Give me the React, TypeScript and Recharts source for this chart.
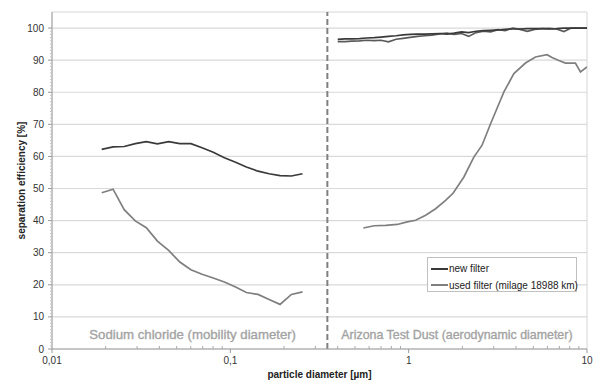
import React from 'react';
import { ComposedChart, Line, XAxis, YAxis, ReferenceLine, ReferenceArea, ReferenceDot, Label } from 'recharts';

// Sodium chloride range (mobility diameter)
const naclX = [0.019, 0.022, 0.0254, 0.0293, 0.0338, 0.039, 0.0451, 0.0521, 0.0601, 0.0694, 0.0802, 0.0926, 0.107, 0.123, 0.143, 0.165, 0.19, 0.22, 0.254];
const naclNew = [62.2, 63.0, 63.1, 64.0, 64.6, 63.9, 64.6, 64.0, 64.0, 62.7, 61.3, 59.6, 58.2, 56.7, 55.4, 54.6, 54.0, 53.9, 54.6];
const naclUsed = [48.7, 49.8, 43.4, 39.9, 37.8, 33.6, 30.7, 27.1, 24.7, 23.3, 22.1, 20.9, 19.3, 17.6, 17.0, 15.4, 13.9, 17.0, 17.8];

// Arizona Test Dust range (aerodynamic diameter)
const atdTopX = [0.4, 0.44, 0.48, 0.53, 0.58, 0.64, 0.7, 0.77, 0.85, 0.93, 1.02, 1.12, 1.23, 1.35, 1.49, 1.64, 1.8, 1.98, 2.17, 2.39, 2.62, 2.88, 3.17, 3.48, 3.83, 4.21, 4.63, 5.08, 5.59, 6.14, 6.75, 7.42, 8.15, 8.96, 10];
const atdNew = [96.5, 96.6, 96.6, 96.7, 96.9, 97.0, 97.2, 97.4, 97.6, 97.9, 98.0, 98.1, 98.1, 98.2, 98.3, 98.1, 98.4, 98.8, 98.6, 99.0, 99.2, 99.3, 99.4, 99.6, 99.7, 99.7, 99.8, 99.8, 99.8, 99.7, 99.8, 100, 100, 100, 100];
const atdUsedTop = [95.8, 95.8, 95.9, 96.0, 96.2, 96.1, 96.2, 95.7, 96.5, 96.8, 97.1, 97.4, 97.6, 97.8, 98.2, 98.4, 98.0, 98.3, 97.4, 98.6, 99.0, 98.8, 99.5, 99.2, 100, 99.6, 99.0, 99.6, 99.8, 99.9, 99.7, 98.9, 100, 100, 100];
const atdUsedX = [0.557, 0.64, 0.743, 0.863, 0.982, 1.094, 1.245, 1.416, 1.611, 1.778, 2.04, 2.32, 2.58, 2.88, 3.27, 3.42, 3.89, 4.52, 5.14, 5.97, 6.37, 6.95, 7.57, 8.61, 9.19, 10];
const atdUsed = [37.7, 38.4, 38.5, 38.8, 39.6, 40.1, 41.7, 43.7, 46.3, 48.6, 53.6, 59.8, 63.5, 70.2, 77.5, 80.1, 85.8, 89.1, 91.0, 91.7, 90.8, 89.9, 89.1, 89.1, 86.3, 87.9];

const xMajor = [0.01, 0.1, 1, 10];
const xMajorLabels = ['0,01', '0,1', '1', '10'];
const yMajor = [0, 10, 20, 30, 40, 50, 60, 70, 80, 90, 100];
const separatorX = 0.35;

const pair = (xs: number[], ys: number[]) => xs.map((x, i) => ({ x, y: ys[i] }));

const xTicks: number[] = [];
[0.01, 0.1, 1].forEach(d => {
  for (let m = 1; m < 10; m++) xTicks.push(+(d * m).toPrecision(3));
});
xTicks.push(10);
const yTicks: number[] = [];
for (let v = 0; v <= 100; v++) yTicks.push(v);

const NEW_COL = '#3a3a3a';
const USED_COL = '#7f7f7f';
const NOTE_COL = '#a3a3a3';
const FONT = '"Liberation Sans", Arial, sans-serif';

const XTick = ({ x, y, payload }: any) => {
  const idx = xMajor.findIndex(v => Math.abs(v - payload.value) < 1e-9);
  if (idx >= 0) {
    return (
      <g>
        <line x1={x} x2={x} y1={y} y2={y + 4} stroke="#999" />
        <text x={x} y={y + 11} dy="0.35em" textAnchor="middle" fontSize={10} fill="#333" fontFamily={FONT}>
          {xMajorLabels[idx]}
        </text>
      </g>
    );
  }
  return <line x1={x} x2={x} y1={y - 3} y2={y} stroke="#aaa" />;
};

const YTick = ({ x, y, payload }: any) => {
  if (payload.value % 10 === 0) {
    return (
      <g>
        <line x1={x - 4} x2={x} y1={y} y2={y} stroke="#999" />
        <text x={x - 8} y={y} dy="0.35em" textAnchor="end" fontSize={10} fill="#333" fontFamily={FONT}>
          {payload.value}
        </text>
      </g>
    );
  }
  return <line x1={x - 2} x2={x} y1={y} y2={y} stroke="#c4c4c4" />;
};

const App: React.FC = () => {
  return (
    <div style={{ position: 'absolute', left: 0, top: 0, width: 598, height: 381, fontFamily: FONT, background: '#fff' }}>
      <ComposedChart width={598} height={381} margin={{ top: 12, right: 11, left: 12, bottom: 12 }}>
        <XAxis
          dataKey="x"
          type="number"
          scale="log"
          domain={[0.01, 10]}
          ticks={xTicks}
          interval={0}
          tick={<XTick />}
          tickLine={false}
          tickSize={0}
          tickMargin={0}
          height={20}
          stroke="#a0a0a0"
          allowDataOverflow
        >
          <Label
            content={({ viewBox }: any) => (
              <text x={viewBox.x + viewBox.width / 2} y={viewBox.y + 25} dy="0.35em" textAnchor="middle" fontSize={10} fontWeight="bold" fill="#222" fontFamily={FONT}>
                particle diameter [µm]
              </text>
            )}
          />
        </XAxis>
        <YAxis
          type="number"
          domain={[0, 105]}
          ticks={yTicks}
          interval={0}
          tick={<YTick />}
          tickLine={false}
          tickSize={0}
          tickMargin={0}
          width={40}
          stroke="#a0a0a0"
          allowDataOverflow
        >
          <Label
            content={({ viewBox }: any) => {
              const cx = viewBox.x + 9;
              const cy = viewBox.y + viewBox.height / 2;
              return (
                <text x={cx} y={cy} dy="0.35em" textAnchor="middle" fontSize={10} fontWeight="bold" fill="#222" fontFamily={FONT} transform={`rotate(-90, ${cx}, ${cy})`}>
                  separation efficiency [%]
                </text>
              );
            }}
          />
        </YAxis>
        <ReferenceArea x1={0.01} x2={10} y1={0} y2={105} fill="none" stroke="#d6d6d6" />
        {yMajor.filter(v => v > 0).map(v => (
          <ReferenceLine key={v} y={v} stroke="#d9d9d9" strokeWidth={1.2} />
        ))}
        <ReferenceLine x={separatorX} stroke="#808080" strokeWidth={2} strokeDasharray="6 3" />
        <ReferenceDot x={0.0615} y={4.6} r={0} fill="none" stroke="none">
          <Label position="center" value="Sodium chloride (mobility diameter)" fill={NOTE_COL} stroke={NOTE_COL} strokeWidth={0.35} fontSize={13.2} fontFamily={FONT} />
        </ReferenceDot>
        <ReferenceDot x={1.865} y={4.6} r={0} fill="none" stroke="none">
          <Label position="center" value="Arizona Test Dust (aerodynamic diameter)" fill={NOTE_COL} stroke={NOTE_COL} strokeWidth={0.35} fontSize={12.4} fontFamily={FONT} />
        </ReferenceDot>
        <Line data={pair(naclX, naclUsed)} dataKey="y" stroke={USED_COL} strokeWidth={1.7} dot={false} isAnimationActive={false} />
        <Line data={pair(naclX, naclNew)} dataKey="y" stroke={NEW_COL} strokeWidth={1.7} dot={false} isAnimationActive={false} />
        <Line data={pair(atdUsedX, atdUsed)} dataKey="y" stroke={USED_COL} strokeWidth={1.7} dot={false} isAnimationActive={false} />
        <Line data={pair(atdTopX, atdUsedTop)} dataKey="y" stroke="#5a5a5a" strokeWidth={1.7} dot={false} isAnimationActive={false} />
        <Line data={pair(atdTopX, atdNew)} dataKey="y" stroke={NEW_COL} strokeWidth={1.7} dot={false} isAnimationActive={false} />
      </ComposedChart>
      <div
        style={{
          position: 'absolute',
          left: 427,
          top: 257,
          width: 150,
          height: 35,
          border: '1px solid #c0c0c0',
          background: '#fff',
          fontSize: 10,
          color: '#222',
          boxSizing: 'border-box',
        }}
      >
        <div style={{ position: 'absolute', left: 3, top: 9.5, width: 17, height: 2, background: NEW_COL }} />
        <div style={{ position: 'absolute', left: 21, top: 4, lineHeight: '13px', whiteSpace: 'nowrap' }}>new filter</div>
        <div style={{ position: 'absolute', left: 3, top: 26, width: 17, height: 2, background: USED_COL }} />
        <div style={{ position: 'absolute', left: 21, top: 20.5, lineHeight: '13px', whiteSpace: 'nowrap' }}>used filter (milage 18988 km)</div>
      </div>
    </div>
  );
};

export default App;
